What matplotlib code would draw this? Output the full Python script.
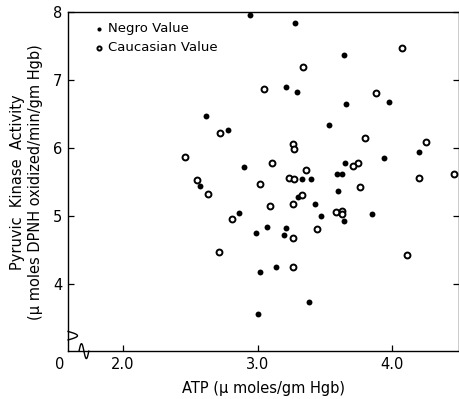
import numpy as np
import matplotlib
matplotlib.use("Agg")
import matplotlib.pyplot as plt

# Negro values (filled dots): ATP, pyruvic kinase activity
negro_atp = [2.94, 3.28, 3.64, 3.21, 3.29, 3.66, 3.98, 3.53, 2.62, 2.78,
             3.94, 4.20, 2.90, 3.65, 3.59, 3.63, 3.33, 3.40, 2.57, 3.60,
             3.30, 3.43, 2.86, 3.47, 3.64, 3.85, 2.99, 3.07, 3.21, 3.20,
             3.02, 3.14, 3.38, 3.00]
negro_pk = [7.96, 7.85, 7.37, 6.91, 6.83, 6.65, 6.68, 6.35, 6.48, 6.27,
            5.86, 5.95, 5.73, 5.79, 5.63, 5.63, 5.55, 5.55, 5.45, 5.38,
            5.29, 5.18, 5.05, 5.01, 4.93, 5.04, 4.75, 4.84, 4.83, 4.72,
            4.19, 4.25, 3.74, 3.57]

# Caucasian values (open circles)
cauc_atp = [4.07, 3.34, 3.05, 3.88, 2.72, 3.80, 4.25, 3.26, 3.27, 2.46,
            3.11, 3.75, 3.71, 3.36, 4.20, 4.46, 3.23, 3.27, 2.55, 3.02,
            3.76, 3.33, 2.63, 2.81, 3.09, 3.26, 3.58, 3.63, 3.63, 3.44,
            3.26, 2.71, 4.11, 3.26]
cauc_pk = [7.47, 7.19, 6.87, 6.81, 6.22, 6.16, 6.09, 6.06, 5.99, 5.87,
           5.78, 5.79, 5.74, 5.68, 5.57, 5.63, 5.57, 5.55, 5.54, 5.47,
           5.44, 5.31, 5.33, 4.96, 5.16, 5.18, 5.06, 5.08, 5.04, 4.81,
           4.68, 4.47, 4.43, 4.25]

xticks = [2.0, 3.0, 4.0]
yticks = [4, 5, 6, 7, 8]

plt.rcParams['font.family'] = ['DejaVu Sans']

fig = plt.figure(figsize=(4.6, 3.99), dpi=100)
ax = fig.add_axes([0.148, 0.120, 0.850, 0.849])

ax.scatter(negro_atp, negro_pk, s=18, c='black', marker='o',
           linewidths=0, label='Negro Value', clip_on=False, zorder=3)
ax.scatter(cauc_atp, cauc_pk, s=18, facecolors='white', edgecolors='black',
           marker='o', linewidths=1.4, label='Caucasian Value',
           clip_on=False, zorder=3)

ax.set_xlim(1.591, 4.498)
ax.set_ylim(3.02, 8.0)
ax.set_xticks(xticks)
ax.set_xticklabels(['2.0', '3.0', '4.0'])
ax.set_yticks(yticks)
ax.tick_params(axis='both', direction='in', length=4, width=0.9,
               labelsize=10.5, pad=4)
ax.tick_params(axis='y', right=True)
for sp in ax.spines.values():
    sp.set_linewidth(1.0)

# origin label and axis break squiggles
ax.text(-0.022, -0.016, '0', transform=ax.transAxes, ha='center',
        va='top', fontsize=10.5)
t = np.linspace(0, 1, 50)
ax.plot(np.sin(t * np.pi) * 0.024, 0.058 - t * 0.025,
        color='black', lw=1.0, transform=ax.transAxes, clip_on=False)
ax.plot(0.028 + t * 0.025, np.sin(t * 2 * np.pi) * 0.022,
        color='black', lw=1.0, transform=ax.transAxes, clip_on=False)

ax.text(-0.107, 0.50, 'Pyruvic  Kinase  Activity\n(\u03bc moles DPNH oxidized/min/gm Hgb)',
        transform=ax.transAxes, rotation=90, ha='center', va='center',
        fontsize=10.5, linespacing=1.25)
ax.text(0.499, -0.109, 'ATP (\u03bc moles/gm Hgb)', transform=ax.transAxes,
        ha='center', va='center', fontsize=10.5)

ax.legend(loc='upper left', bbox_to_anchor=(0.055, 0.99), frameon=False,
          handlelength=0.5, handletextpad=0.4, borderpad=0, labelspacing=0.45,
          fontsize=9.5, markerscale=0.7)

fig.savefig('out.png', dpi=100)
